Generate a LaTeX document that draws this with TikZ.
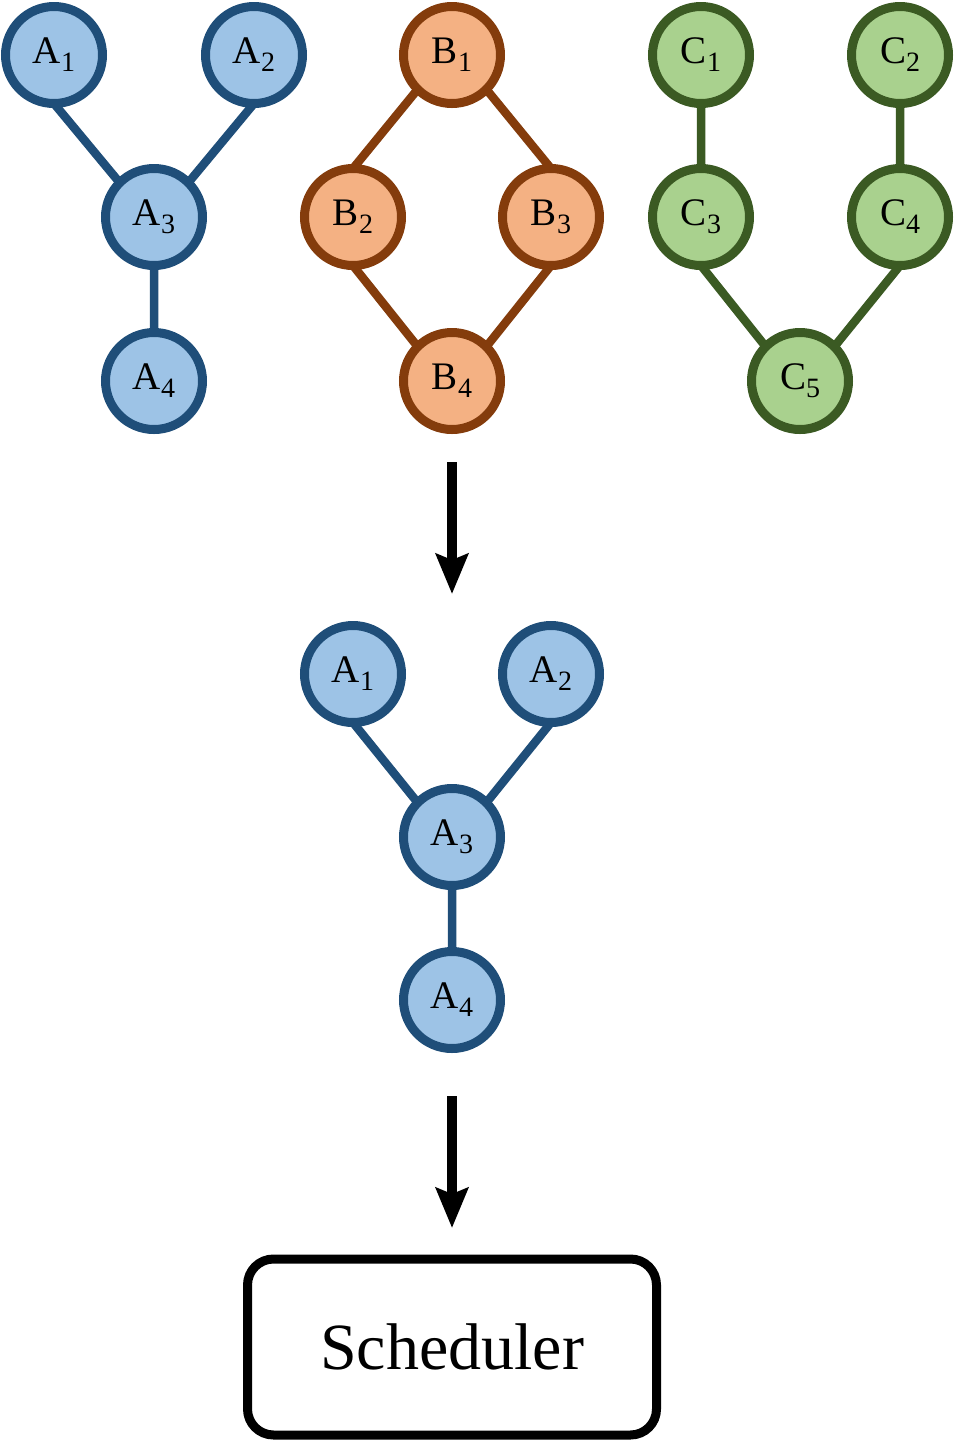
\documentclass[tikz,border=0pt]{standalone}
\usepackage{fontspec}
\setmainfont{Liberation Serif}
\usetikzlibrary{arrows.meta}
\definecolor{afill}{HTML}{9DC3E6}
\definecolor{aline}{HTML}{1F4E79}
\definecolor{bfill}{HTML}{F4B183}
\definecolor{bline}{HTML}{843C0C}
\definecolor{cfill}{HTML}{A9D18E}
\definecolor{cline}{HTML}{3B5A23}
\newcommand{\idx}[1]{\raisebox{-4pt}{\fontsize{14}{15}\selectfont #1}}
\tikzset{
  task/.style={circle, inner sep=0pt, outer sep=0pt, minimum size=48.5pt,
    line width=4.5pt, font=\fontsize{19.5}{22}\selectfont},
  atask/.style={task, draw=aline, fill=afill},
  btask/.style={task, draw=bline, fill=bfill},
  ctask/.style={task, draw=cline, fill=cfill},
  link/.style={line width=4.25pt},
  flow/.style={-{Stealth[length=20pt, width=16pt, inset=3pt]}, line width=5pt},
}

\begin{document}
\begin{tikzpicture}[x=0.5pt, y=-0.5pt]

  \useasboundingbox (0,0) rectangle (955,1442);

  % Graph A.
  \begin{scope}[every node/.style={atask}]
    \node (a1) at (54,55)  {A\idx{1}};
    \node (a2) at (254,55) {A\idx{2}};
    \node (a3) at (154,217) {A\idx{3}};
    \node (a4) at (154,381) {A\idx{4}};
  \end{scope}
  \draw[link, aline] (a1.south) -- (a3.north west)
    (a2.south) -- (a3.north east) (a3.south) -- (a4.north);

  % Graph B.
  \begin{scope}[every node/.style={btask}]
    \node (b1) at (452,55)  {B\idx{1}};
    \node (b2) at (353,217) {B\idx{2}};
    \node (b3) at (551,217) {B\idx{3}};
    \node (b4) at (452,381) {B\idx{4}};
  \end{scope}
  \draw[link, bline] (b1.south west) -- (b2.north)
    (b1.south east) -- (b3.north)
    (b2.south) -- (b4.north west) (b3.south) -- (b4.north east);

  % Graph C.
  \begin{scope}[every node/.style={ctask}]
    \node (c1) at (701,55)  {C\idx{1}};
    \node (c2) at (900,55)  {C\idx{2}};
    \node (c3) at (701,217) {C\idx{3}};
    \node (c4) at (900,217) {C\idx{4}};
    \node (c5) at (800,381) {C\idx{5}};
  \end{scope}
  \draw[link, cline] (c1.south) -- (c3.north) (c2.south) -- (c4.north)
    (c3.south) -- (c5.north west) (c4.south) -- (c5.north east);

  % Selected graph.
  \begin{scope}[every node/.style={atask}]
    \node (s1) at (353,674)  {A\idx{1}};
    \node (s2) at (551,674)  {A\idx{2}};
    \node (s3) at (452,837)  {A\idx{3}};
    \node (s4) at (452,1000) {A\idx{4}};
  \end{scope}
  \draw[link, aline] (s1.south) -- (s3.north west)
    (s2.south) -- (s3.north east) (s3.south) -- (s4.north);

  % Scheduler box.
  \node[draw, line width=4.5pt, rounded corners=13pt, minimum width=204.5pt,
    minimum height=88pt, font=\fontsize{33}{36}\selectfont]
    (sched) at (452,1347) {Scheduler};

  % Arrows.
  \coordinate (top1) at (452,462);
  \coordinate (tip1) at (452,594);
  \coordinate (top2) at (452,1096);
  \coordinate (tip2) at (452,1228);
  \draw[flow] (top1) -- (tip1);
  \draw[flow] (top2) -- (tip2);

\end{tikzpicture}
\end{document}
